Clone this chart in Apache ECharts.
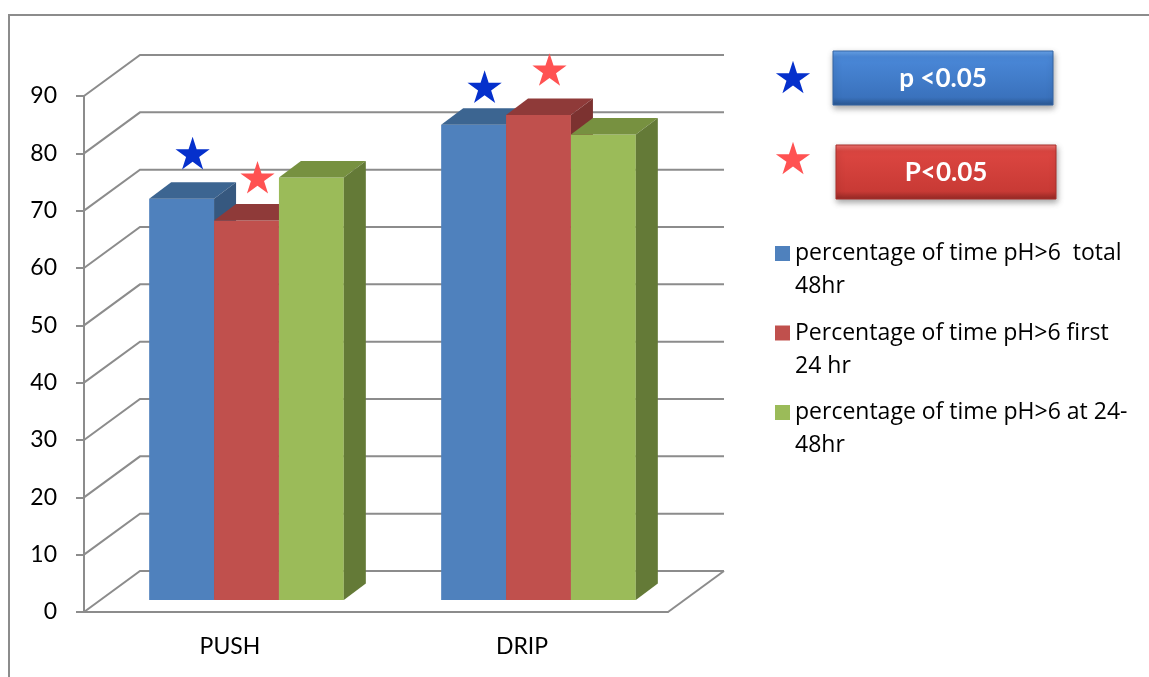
<!DOCTYPE html>
<html>
<head>
<meta charset="utf-8">
<script src="https://cdn.jsdelivr.net/npm/echarts@6/dist/echarts.min.js"></script>
<style>
  html, body { margin: 0; padding: 0; background: #fff; }
  #chart { width: 1149px; height: 677px; }
</style>
</head>
<body>
<div id="chart"></div>
<script>
const categories = ['PUSH', 'DRIP'];
const seriesNames = [
  'percentage of time pH>6  total 48hr',
  'Percentage of time pH>6 first 24 hr',
  'percentage of time pH>6 at 24-48hr'
];
const legendLabels = [
  'percentage of time pH>6  total\n48hr',
  'Percentage of time pH>6 first\n24 hr',
  'percentage of time pH>6 at 24-\n48hr'
];
const totalValues = [70, 82.9];
const firstValues = [66.2, 84.6];
const laterValues = [73.7, 81.2];
// significance stars (height in axis units)
const blueStarValues = [76.5, 88.1];
const redStarValues = [72.3, 91.1];
const yTicks = [0, 10, 20, 30, 40, 50, 60, 70, 80, 90];

const FONT = 'Lato';
const LEGEND_FONT = 'Open Sans';
const GRID_COLOR = '#8c8c8c';
// 3d look: full wall depth, front plane of bars, bar depth (px)
const DEPTH = [56, -41];
const PLANE = [16.5, -12];
const BAR_D = [22, -16.5];

const palette = [
  { front: '#4f81bd', top: '#3c6591', side: '#36587f' },
  { front: '#c0504d', top: '#8f3a39', side: '#7c3230' },
  { front: '#9bbb59', top: '#779140', side: '#647a37' }
];

// five point star outline around (cx, cy), cy is the middle of its box
function starPoints(cx, cy, R) {
  const pts = [];
  const oy = cy + R * (1 - (1 + Math.cos(Math.PI / 5)) / 2);
  for (let k = 0; k < 10; k++) {
    const r = k % 2 ? R * 0.382 : R;
    const a = -Math.PI / 2 + k * Math.PI / 5;
    pts.push([cx + r * Math.cos(a), oy + r * Math.sin(a)]);
  }
  return pts;
}

const chart = echarts.init(document.getElementById('chart'));

const barX = (api, cat, idx) => {
  const band = api.size([1, 0])[0];
  const w = band / 4.5;
  const c = api.coord([cat, 0])[0];
  return { x0: c - 1.5 * w + idx * w + PLANE[0], w: w };
};

const barSeries = (name, values, idx) => ({
  name: name,
  type: 'custom',
  z: 3 + idx,
  clip: false,
  itemStyle: { color: palette[idx].front },
  data: values.map((v, i) => [i, v]),
  renderItem: (params, api) => {
    const cat = api.value(0);
    const { x0, w } = barX(api, cat, idx);
    const x1 = x0 + w;
    const yb = api.coord([cat, 0])[1] + PLANE[1];
    const yt = api.coord([cat, api.value(1)])[1] + PLANE[1];
    const c = palette[idx];
    return {
      type: 'group',
      children: [
        { type: 'rect', shape: { x: x0, y: yt, width: w, height: yb - yt }, style: { fill: c.front } },
        { type: 'polygon', shape: { points: [[x0, yt], [x1, yt], [x1 + BAR_D[0], yt + BAR_D[1]], [x0 + BAR_D[0], yt + BAR_D[1]]] }, style: { fill: c.top } },
        { type: 'polygon', shape: { points: [[x1, yt], [x1 + BAR_D[0], yt + BAR_D[1]], [x1 + BAR_D[0], yb + BAR_D[1]], [x1, yb]] }, style: { fill: c.side } }
      ]
    };
  }
});

const starSeries = (name, values, idx, color) => ({
  name: name,
  type: 'custom',
  z: 8,
  clip: false,
  data: values.map((v, i) => [i, v]),
  renderItem: (params, api) => {
    const cat = api.value(0);
    const { x0, w } = barX(api, cat, idx);
    const cx = x0 + w / 2 + BAR_D[0] / 2;
    const cy = api.coord([cat, api.value(1)])[1] + PLANE[1] + BAR_D[1] / 2;
    return {
      type: 'polygon',
      shape: { points: starPoints(cx, cy, 18) },
      style: { fill: color }
    };
  }
});

const wallSeries = {
  name: 'walls',
  type: 'custom',
  z: 1,
  clip: false,
  silent: true,
  data: yTicks.map(v => [0, v]),
  renderItem: (params, api) => {
    const cs = params.coordSys;
    const left = cs.x, right = cs.x + cs.width;
    const y = api.coord([0, api.value(1)])[1];
    const children = [{
      type: 'polyline',
      shape: { points: [[left, y], [left + DEPTH[0], y + DEPTH[1]], [right + DEPTH[0], y + DEPTH[1]]] },
      style: { stroke: GRID_COLOR, lineWidth: 2, fill: null }
    }];
    if (api.value(1) === 0) {
      children.push({
        type: 'line',
        shape: { x1: right, y1: y, x2: right + DEPTH[0], y2: y + DEPTH[1] },
        style: { stroke: GRID_COLOR, lineWidth: 2 }
      });
    }
    return { type: 'group', children: children };
  }
};

const sigBox = (x, y, text, stops, border) => ({
  type: 'group',
  x: x, y: y,
  children: [
    {
      type: 'rect',
      shape: { x: 0, y: 0, width: 220, height: 54 },
      style: {
        fill: new echarts.graphic.LinearGradient(0, 0, 0, 1, stops),
        stroke: border, lineWidth: 1,
        shadowBlur: 6, shadowOffsetX: 1, shadowOffsetY: 3, shadowColor: 'rgba(0,0,0,0.35)'
      }
    },
    {
      type: 'text',
      style: {
        x: 110, y: 28, text: text, align: 'center', verticalAlign: 'middle',
        fill: '#fff', font: 'bold 26px ' + FONT
      }
    }
  ]
});

const legendStar = (x, y, color) => ({
  type: 'polygon',
  shape: { points: starPoints(x, y, 18) },
  style: { fill: color }
});

chart.setOption({
  animation: false,
  backgroundColor: '#fff',
  grid: { left: 84, top: 96, width: 584, height: 516, outerBoundsMode: 'none' },
  xAxis: {
    type: 'category',
    data: categories,
    axisLine: { lineStyle: { color: GRID_COLOR, width: 2 } },
    axisTick: { length: 8, lineStyle: { color: GRID_COLOR, width: 2 } },
    axisLabel: { color: '#000', fontFamily: FONT, fontSize: 23, margin: 23 },
    splitLine: { show: false }
  },
  yAxis: {
    type: 'value',
    min: 0, max: 90, interval: 10,
    axisLine: { show: true, lineStyle: { color: GRID_COLOR, width: 2 } },
    axisTick: { show: true, length: 8, lineStyle: { color: GRID_COLOR, width: 2 } },
    axisLabel: { color: '#000', fontFamily: FONT, fontSize: 23, margin: 27 },
    splitLine: { show: false }
  },
  legend: {
    data: seriesNames,
    orient: 'vertical',
    left: 775, top: 237,
    padding: 0,
    itemWidth: 15, itemHeight: 66, itemGap: 13.5,
    icon: 'path://M0 0L0 0M0 9H15V24H0ZM0 66L0 66',
    formatter: name => legendLabels[seriesNames.indexOf(name)],
    textStyle: { color: '#000', fontFamily: LEGEND_FONT, fontSize: 23, lineHeight: 33 }
  },
  graphic: [
    { type: 'rect', z: -10, silent: true, shape: { x: 9, y: 15, width: 1300, height: 800 }, style: { fill: null, stroke: GRID_COLOR, lineWidth: 2 } },
    legendStar(793, 77, '#0530cc'),
    legendStar(793, 158, '#ff5252'),
    sigBox(833, 51, 'p <0.05', [
      { offset: 0, color: '#6aa6ec' }, { offset: 0.12, color: '#4a88d8' },
      { offset: 0.85, color: '#3a72bd' }, { offset: 1, color: '#2a5790' }
    ], '#3565a3'),
    sigBox(836, 145, 'P<0.05', [
      { offset: 0, color: '#f07672' }, { offset: 0.12, color: '#dc4641' },
      { offset: 0.85, color: '#c83a35' }, { offset: 1, color: '#922824' }
    ], '#a8302c')
  ],
  series: [
    wallSeries,
    barSeries(seriesNames[0], totalValues, 0),
    barSeries(seriesNames[1], firstValues, 1),
    barSeries(seriesNames[2], laterValues, 2),
    starSeries('blue star', blueStarValues, 0, '#0530cc'),
    starSeries('red star', redStarValues, 1, '#ff5252')
  ]
});
</script>
</body>
</html>
